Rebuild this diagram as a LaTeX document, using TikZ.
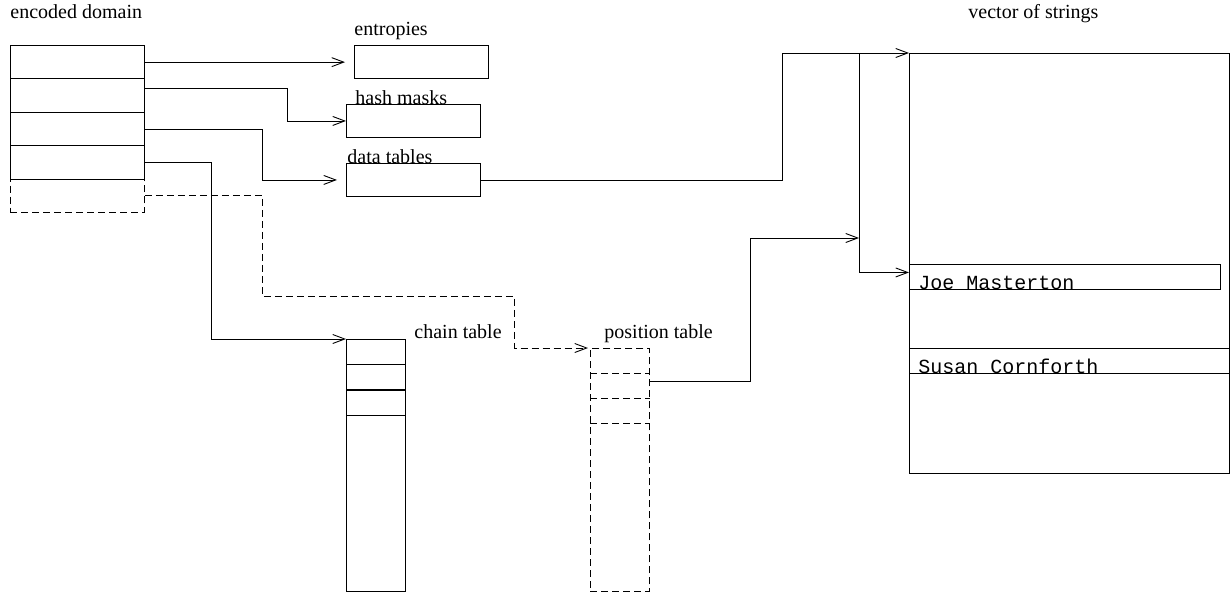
\documentclass[tikz,border=0pt]{standalone}
\usepackage{fontspec}
\setmainfont{Liberation Serif}
\setmonofont{Liberation Mono}
\usetikzlibrary{arrows.meta,positioning}
\tikzset{
    cell/.style = {draw, rectangle, inner sep=0pt, anchor=north west, minimum width=134pt, minimum height=33.4pt},
    tbl/.style = {draw, rectangle, inner sep=0pt, anchor=north west, minimum width=134pt, minimum height=33pt},
    slot/.style = {draw, rectangle, inner sep=0pt, anchor=north west, minimum width=59pt, minimum height=25pt},
    strbox/.style = {draw, rectangle, inner sep=0pt, anchor=north west, minimum height=25pt},
    lbl/.style = {inner sep=0pt, anchor=base west, font=\fontsize{20}{24}\selectfont},
    strtext/.style = {inner sep=0pt, anchor=base west, font=\ttfamily\fontsize{20}{24}\selectfont},
    dashline/.style = {dash pattern=on 7pt off 4pt},
    link/.style = {-{Straight Barb[length=12pt,width=9pt]}},
}

\begin{document}
\begin{tikzpicture}[x=1pt, y=-1pt, line width=0.9pt]
\useasboundingbox (0,0) rectangle (1231,594);

% encoded domain
\node[lbl] (edlbl) at (10,19) {encoded domain};
\foreach \i in {1,...,4}
    \node[cell] (ed\i) at (10,{45+33.4*(\i-1)}) {};
\node[cell, dashline] (ed5) at (10,178.6) {};

% tables fed by the domain
\node[tbl] (ent) at (354,45) {};
\node[lbl] (entlbl) at (354,36) {entropies};
\node[tbl] (hash) at (346,104) {};
\node[lbl] (hashlbl) at (355,104) {hash masks};
\node[tbl] (data) at (346,163) {};
\node[lbl] (datalbl) at (347,163) {data tables};

% chain table
\node[slot, minimum height=252pt] (chain) at (346,339) {};
\foreach \i in {1,2,3}
    \node[slot] (ct\i) at (346,{339+25.3*(\i-1)}) {};
\node[lbl] (chainlbl) at (414,338) {chain table};

% position table
\node[slot, dashline, minimum height=243pt] (pos) at (590,348) {};
\foreach \i in {1,2,3} {
    \node[slot, draw=none] (pt\i) at (590,{348+25*(\i-1)}) {};
    \draw[dashline] (pt\i.south west) -- (pt\i.south east);
}
\node[lbl] (poslbl) at (604,338) {position table};

% vector of strings
\node[strbox, minimum width=320pt, minimum height=420pt] (vec) at (909,53) {};
\node[lbl] (veclbl) at (968,19) {vector of strings};
\node[strbox, minimum width=311pt] (joe) at (909,264) {};
\node[strtext] (joetxt) at (918,289) {Joe Masterton};
\node[strbox, minimum width=320pt] (susan) at (909,348) {};
\node[strtext] (susantxt) at (918,373) {Susan Cornforth};

\coordinate (tap) at ([xshift=-50pt]vec.north west);
\coordinate (jn) at (859,238);

% connectors
\draw[link, shorten >=9pt] (ed1.east) -- (ed1.east -| ent.west);
\draw[link] ([yshift=7pt]ed2.east) -- ++(143,0) |- (hash.west);
\draw[link, shorten >=9pt] (ed3.east) -- ++(118,0) |- (data.west);
\draw[link] (ed4.east) -- ++(67,0) |- (chain.north west);
\draw[link, dashline] (ed5.east) -- ++(118,0) -- ++(0,101) -- ++(252,0) |- ([xshift=-2pt]pos.north west);
\draw[link] (data.east) -- ++(302,0) |- (vec.north west);
\draw[link] (tap) |- ([yshift=4.5pt]joe.west);
\draw[link] ([yshift=4.5pt]pt2.east) -- ++(101,0) |- (jn);
\end{tikzpicture}
\end{document}
